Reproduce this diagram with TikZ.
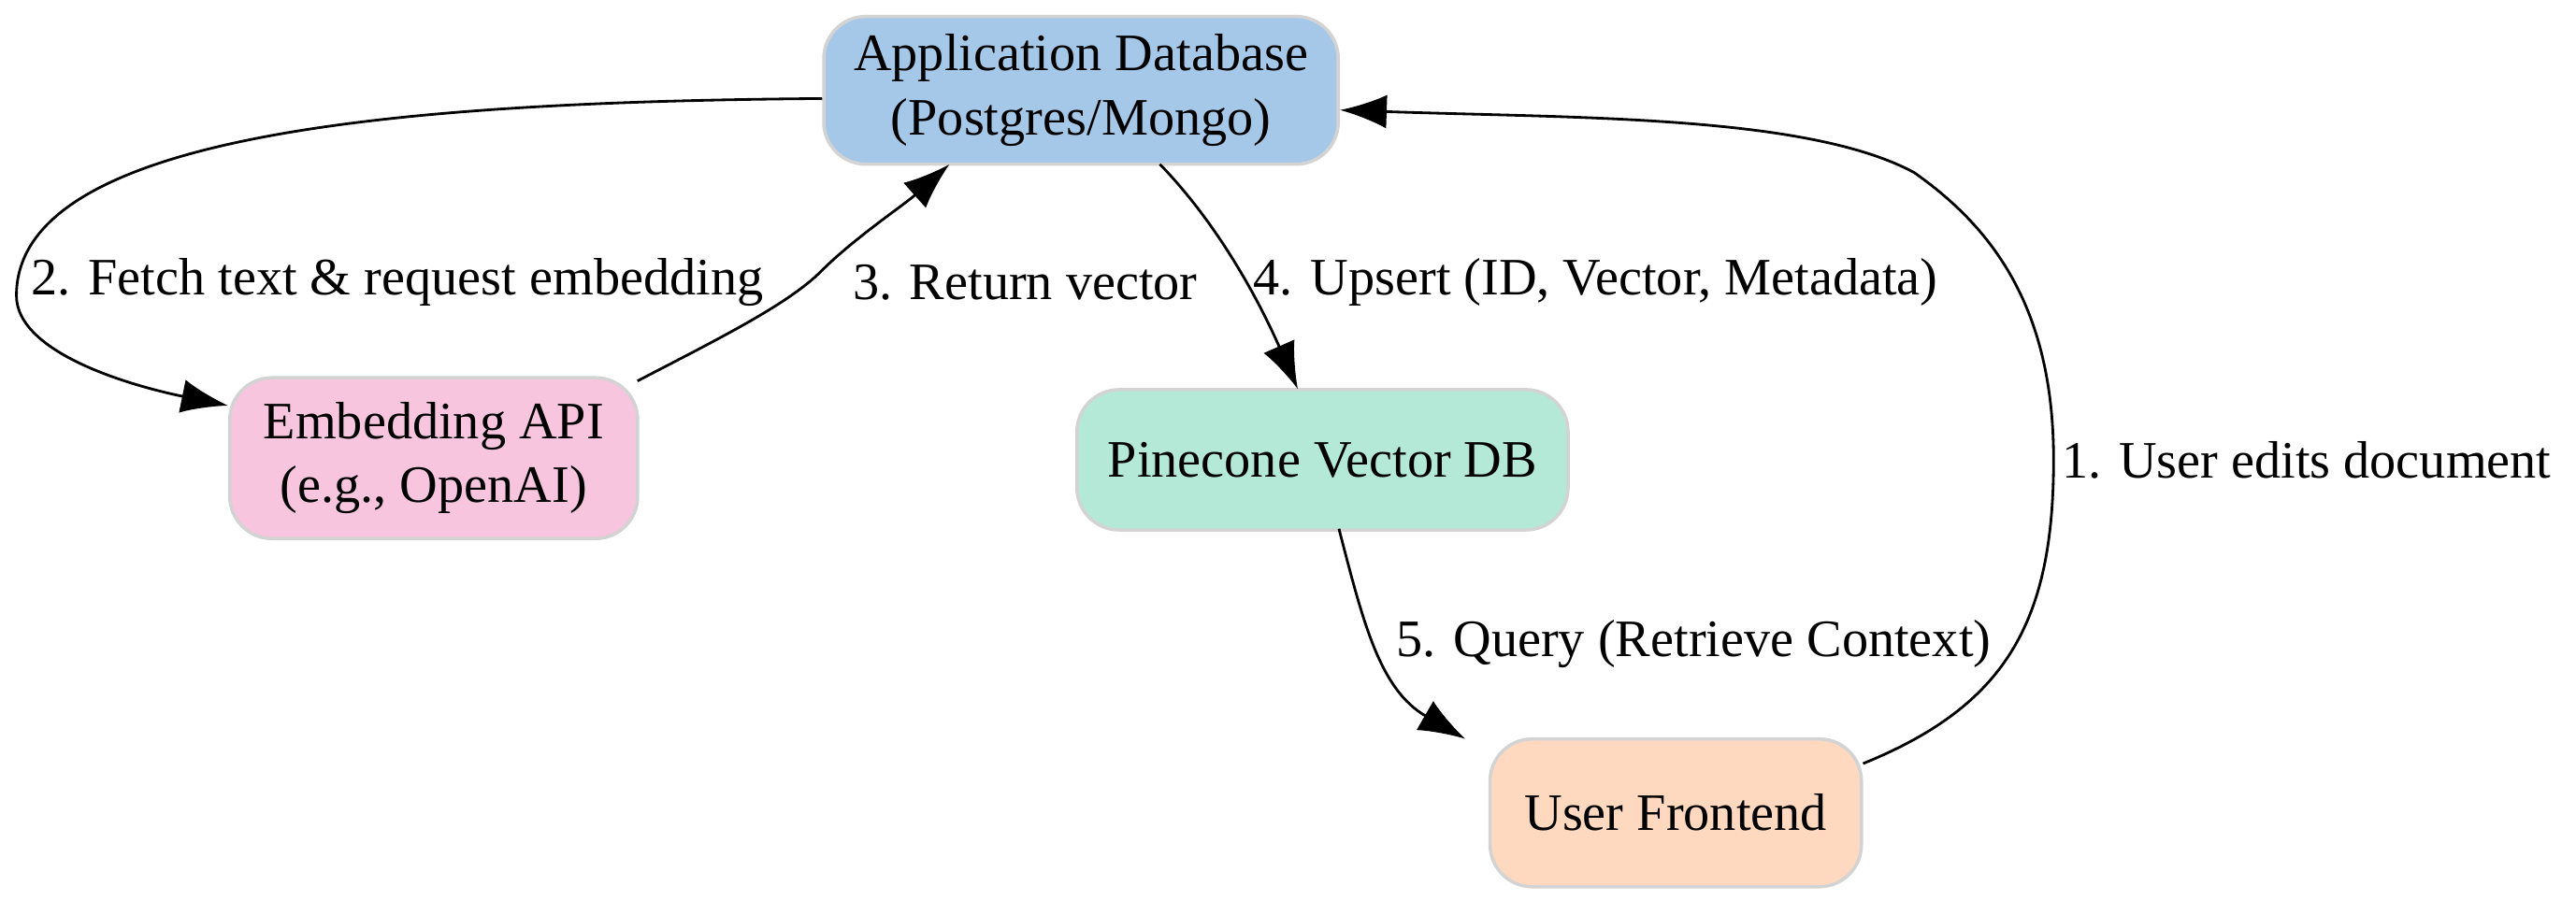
\documentclass[tikz,border=0pt]{standalone}
\usepackage{fontspec}
\setmainfont{Liberation Serif}
\usetikzlibrary{arrows.meta}
\definecolor{dbblue}{HTML}{A6C8E8}
\definecolor{embpink}{HTML}{F7C6DE}
\definecolor{pcgreen}{HTML}{B5E9D7}
\definecolor{feorange}{HTML}{FFD9BF}
\definecolor{boxline}{HTML}{D3D3D3}
\tikzset{
  box/.style={draw=boxline,line width=1pt,rounded corners=0.45cm,align=center,inner sep=0pt},
  link/.style={thick,black,-{Latex[length=0.5cm,width=0.36cm]}},
  lbl/.style={anchor=west,text=black}
}
\begin{document}
\begin{tikzpicture}[x=0.01757cm,y=-0.01757cm,font=\fontsize{16}{19.5}\selectfont]
\useasboundingbox (0,0) rectangle (1568,548);

% nodes
\node[box,fill=dbblue,minimum width=5.5cm,minimum height=1.58cm] (appdb) at (658,55) {Application Database\\(Postgres/Mongo)};
\node[box,fill=embpink,minimum width=4.36cm,minimum height=1.72cm] (embed) at (264,279) {Embedding API\\(e.g., OpenAI)};
\node[box,fill=pcgreen,minimum width=5.25cm,minimum height=1.5cm] (pinecone) at (805,280) {Pinecone Vector DB};
\node[box,fill=feorange,minimum width=3.97cm,minimum height=1.58cm] (front) at (1020,495) {User Frontend};

% connectors
\draw[link] (front.east|-0,465) .. controls (1220,430) and (1250,380) .. (1250,280)
  .. controls (1250,190) and (1215,140) .. (1165,105)
  .. controls (1100,70) and (960,72) .. (appdb.east|-0,67);
\draw[link] (appdb.west|-0,60) .. controls (250,62) and (10,80) .. (10,180)
  .. controls (10,215) and (80,235) .. (embed.west|-0,247);
\draw[link] (388,232) .. controls (440,205) and (480,185) .. (500,165)
  .. controls (520,145) and (550,125) .. (578,100);
\draw[link] (706,100) .. controls (740,135) and (765,180) .. (790,237);
\draw[link] (815,322) .. controls (830,380) and (840,420) .. (892,450);

% labels
\node[lbl] (l1) at (1248,280) {1. User edits document};
\node[lbl] (l2) at (12,172) {2. Fetch text \& request embedding};
\node[lbl] (l3) at (512,172) {3. Return vector};
\node[lbl] (l4) at (756,172) {4. Upsert (ID, Vector, Metadata)};
\node[lbl] (l5) at (843,392) {5. Query (Retrieve Context)};

\end{tikzpicture}
\end{document}
